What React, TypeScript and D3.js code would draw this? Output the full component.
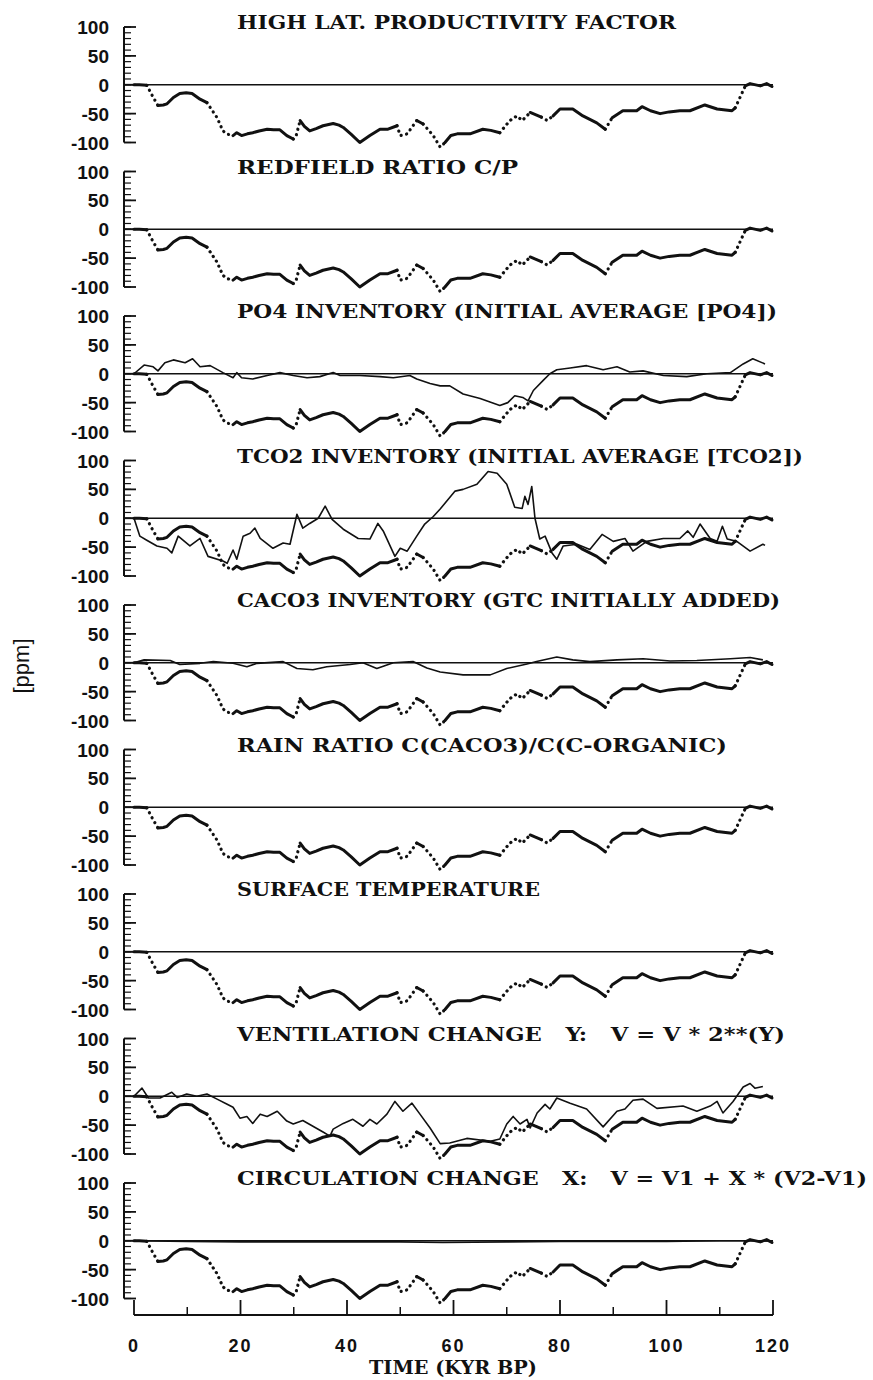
import React from "react";
import * as d3 from "d3";

// ---------- DATA ----------
const titles = [
  "HIGH LAT. PRODUCTIVITY FACTOR",
  "REDFIELD RATIO C/P",
  "PO4 INVENTORY (INITIAL AVERAGE [PO4])",
  "TCO2 INVENTORY (INITIAL AVERAGE [TCO2])",
  "CACO3 INVENTORY (GTC INITIALLY ADDED)",
  "RAIN RATIO C(CACO3)/C(C-ORGANIC)",
  "SURFACE TEMPERATURE",
  "VENTILATION CHANGE   Y:   V = V * 2**(Y)",
  "CIRCULATION CHANGE   X:   V = V1 + X * (V2-V1)",
];

const xTicks = [0, 20, 40, 60, 80, 100, 120];
const yTicks = [100, 50, 0, -50, -100];
const xLabel = "TIME (KYR BP)";
const yLabel = "[ppm]";

// Reference (Vostok) CO2 anomaly, drawn in every panel
const refT = [0, 1, 2.4, 3.5, 4.5, 5.5, 6.2, 7.4, 8.6, 9.8, 10.9, 12.4, 13.7, 15.6, 16.7, 17.7, 18.6, 19.3, 20.2, 21.3, 22.3, 23.5, 25, 26.2, 27.4, 28.7, 29.9, 30.4, 31.2, 32, 33, 34.2, 35.5, 37.4, 38.5, 39.3, 40.8, 42.4, 44.3, 46.2, 47.7, 49.4, 50, 51.3, 53.1, 54.3, 56.2, 57.5, 58.4, 59.5, 60.7, 63.1, 65.5, 67, 68.7, 70.6, 71.9, 72.9, 74.4, 75.5, 76.5, 77.6, 78.7, 80, 82.4, 84.3, 86.9, 88.5, 89.8, 91.8, 94.4, 95.4, 97, 98.8, 100.5, 102.5, 104.4, 107.2, 109.5, 112.3, 112.9, 114.8, 115.7, 117.6, 118.8, 119.8];
const refV = [0, 0, -1, -20, -36, -35, -33, -22, -15, -14, -15, -25, -31, -57, -80, -86, -88, -83, -88, -85, -83, -80, -77, -78, -78, -88, -94, -90, -62, -72, -80, -76, -71, -67, -70, -74, -86, -100, -88, -77, -77, -71, -88, -85, -62, -68, -88, -108, -100, -88, -85, -85, -77, -79, -83, -62, -54, -62, -48, -52, -56, -62, -54, -42, -42, -54, -66, -77, -57, -45, -45, -38, -45, -50, -47, -45, -45, -35, -42, -45, -40, -2, 2, -2, 2, -3];
const refDotted = [[2.4, 4.5], [13.7, 18.6], [29.5, 31.5], [49.4, 53.1], [54.3, 58.4], [69.5, 74.5], [76.5, 79], [88.5, 90], [112.9, 115]];

// Model results (null = coincides with the zero line)
const po4T = [0, 1.9, 3.6, 4.5, 5.8, 7.4, 9.6, 11, 12.4, 14.3, 16.7, 18.6, 19.3, 20.2, 22.3, 25, 27.4, 29.9, 32.5, 34.9, 37.4, 38.7, 42.4, 46.2, 48.7, 51.8, 53.1, 55.6, 57.5, 59.3, 61.8, 65, 68.7, 70.2, 71.5, 73, 74, 75, 76.8, 78.1, 79.4, 81.9, 85, 88.1, 90.7, 93.1, 95.6, 99.4, 103.8, 107.6, 112, 114.4, 116.2, 118.5];
const po4V = [0, 15, 12, 5, 19, 24, 19, 26, 12, 14, 2, -7, 2, -7, -9, -3, 2, -3, -7, -5, 2, -3, -3, -5, -7, -3, -9, -17, -21, -21, -35, -43, -55, -50, -38, -41, -47, -29, -12, 0, 7, 10, 14, 7, 12, 3, 5, -3, -5, 0, 2, 17, 26, 17];

const tco2T = [0, 1.1, 2.4, 4.3, 6.2, 7.1, 8.3, 10.5, 12.4, 13.9, 16.7, 17.5, 18.6, 19.3, 20.5, 21.8, 22.7, 23.7, 26.1, 28, 29.3, 30.6, 31.7, 33, 34.6, 35.9, 37.2, 39.3, 42.1, 44.3, 45.8, 46.8, 49, 50, 51.3, 53.1, 54.6, 56.2, 57.5, 60.3, 61.8, 64.4, 66.5, 68.2, 70, 71.5, 72.9, 73.4, 74, 74.7, 75.3, 76.2, 77.2, 78.5, 79.4, 80.6, 83.2, 85.6, 87.9, 90, 92.2, 93.7, 96.3, 99.4, 102.5, 104, 105, 106.3, 108.2, 109.5, 110.5, 111.4, 113.2, 115.7, 118.1, 118.5];
const tco2V = [0, -31, -38, -48, -52, -60, -31, -48, -35, -66, -74, -78, -55, -71, -31, -26, -17, -35, -52, -43, -45, 7, -17, -9, 0, 21, -2, -19, -35, -36, -9, -22, -66, -52, -57, -31, -10, 3, 16, 47, 50, 59, 81, 78, 59, 19, 17, 38, 24, 55, 0, -36, -31, -60, -71, -48, -45, -54, -28, -40, -35, -57, -40, -35, -35, -22, -33, -10, -35, -40, -14, -36, -40, -57, -45, -47];

const caco3T = [0, 1.9, 6.8, 8.6, 12.4, 14.9, 18.6, 21.2, 23.1, 28, 30.6, 33.6, 36.2, 40.6, 43, 45.6, 48.7, 52.4, 55, 57.5, 61.8, 66.9, 70, 73.8, 75.6, 79.4, 82.4, 85.6, 90.7, 95.6, 100.7, 105.7, 112, 115.7, 118.1];
const caco3V = [0, 5, 4, -3, -1, 2, -1, -7, -1, 2, -10, -12, -7, -3, 0, -10, 0, 2, -9, -16, -21, -21, -10, -2, 2, 10, 5, 2, 5, 7, 3, 4, 7, 9, 5];

const ventT = [0, 1.5, 2.7, 4.9, 7.1, 8.1, 9.9, 11.8, 13.7, 15.6, 17.5, 18.6, 19.9, 21.2, 22.3, 23.7, 25, 26.9, 28.7, 29.9, 31.7, 33.6, 35.5, 36.8, 37.4, 39.3, 41.1, 43, 44.3, 45.6, 47.5, 49, 50.5, 52.2, 53.7, 55.6, 57.5, 59.3, 62.5, 66.9, 68.7, 70, 71.2, 72.5, 73.8, 74.4, 75.7, 77.2, 78.1, 79.4, 81.9, 85, 88.1, 90.7, 92.2, 93.7, 95.6, 98.2, 103.1, 105.7, 108.2, 109.5, 110.6, 112.5, 114.4, 115.7, 116.6, 118.1];
const ventV = [0, 14, -3, -3, 7, -2, 4, 0, 4, -5, -14, -19, -38, -35, -47, -31, -35, -26, -43, -48, -42, -52, -62, -69, -57, -47, -40, -52, -40, -48, -31, -9, -26, -12, -31, -55, -82, -81, -73, -78, -74, -48, -35, -48, -40, -55, -29, -14, -22, -3, -12, -22, -53, -26, -22, -7, -5, -21, -17, -26, -17, -9, -29, -9, 16, 22, 14, 17];

const circT = [0, 10, 20, 30, 40, 50, 58, 70, 80, 90, 100, 110, 120];
const circV = [0, -1, -2, -2, -2, -2, -3, -2, -1, -1, -1, 0, 0];

const modelT = [null, null, po4T, tco2T, caco3T, null, null, ventT, circT];
const modelV = [null, null, po4V, tco2V, caco3V, null, null, ventV, circV];

// ---------- LAYOUT ----------
const W = 873;
const H = 1380;
const TOP0 = 27;
const PITCH = 144.5;
const PH = 115.5;
const AXIS_X = 124;
const X0 = 134;
const X1 = 773;
const TITLE_X = 237;
const titleWidths = [439, 281, 540, 566, 543, 490, 303, 548, 630];
const X_AXIS_Y = 1315;

const SANS = "'Liberation Sans', Arial, Helvetica, sans-serif";
const SERIF = "'DejaVu Serif', 'Liberation Serif', serif";

const x = d3.scaleLinear().domain([0, 120]).range([X0, X1]);

function refSegments() {
  const segs: { dotted: boolean; pts: [number, number][] }[] = [];
  for (let i = 0; i < refT.length - 1; i++) {
    const mid = (refT[i] + refT[i + 1]) / 2;
    const dotted = refDotted.some(([a, b]) => mid >= a && mid <= b);
    const last = segs[segs.length - 1];
    if (last && last.dotted === dotted) {
      last.pts.push([refT[i + 1], refV[i + 1]]);
    } else {
      segs.push({ dotted, pts: [[refT[i], refV[i]], [refT[i + 1], refV[i + 1]]] });
    }
  }
  return segs;
}

function Panel({ i }: { i: number }) {
  const top = TOP0 + i * PITCH;
  const y = d3.scaleLinear().domain([-100, 100]).range([top + PH, top]);
  const line = d3
    .line<[number, number]>()
    .x((d) => x(d[0]))
    .y((d) => y(d[1]));
  const minor = d3.range(-100, 101, 10);
  const segs = refSegments();
  const mt = modelT[i];
  const mv = modelV[i];
  const modelPts: [number, number][] | null = mt && mv ? mt.map((t, k) => [t, mv[k]] as [number, number]) : null;
  return (
    <g>
      <text
        x={TITLE_X}
        y={top + 2}
        fontFamily={SERIF}
        fontWeight="bold"
        fontSize={19}
        textLength={titleWidths[i]}
        lengthAdjust="spacingAndGlyphs"
        style={{ whiteSpace: "pre" }}
        fill="#111"
      >
        {titles[i]}
      </text>
      {/* y axis */}
      <line x1={AXIS_X} x2={AXIS_X} y1={y(100)} y2={y(-100)} stroke="#111" strokeWidth={2} />
      {minor.map((v) => (
        <line key={"m" + v} x1={AXIS_X} x2={AXIS_X + 7} y1={y(v)} y2={y(v)} stroke="#111" strokeWidth={1.2} />
      ))}
      {yTicks.map((v) => (
        <g key={"t" + v}>
          <line x1={AXIS_X} x2={AXIS_X + 12} y1={y(v)} y2={y(v)} stroke="#111" strokeWidth={1.8} />
          <text
            x={109}
            y={y(v) + 7}
            textAnchor="end"
            fontFamily={SANS}
            fontWeight="bold"
            fontSize={19}
            fill="#111"
          >
            {String(v)}
          </text>
        </g>
      ))}
      {/* zero line */}
      <line x1={AXIS_X} x2={X1} y1={y(0)} y2={y(0)} stroke="#111" strokeWidth={1.6} />
      {/* reference curve */}
      {segs.map((s, k) => (
        <path
          key={"r" + k}
          d={line(s.pts) || ""}
          fill="none"
          stroke="#111"
          strokeWidth={s.dotted ? 3.2 : 3}
          strokeLinecap="round"
          strokeLinejoin="round"
          strokeDasharray={s.dotted ? "0.1 5.5" : undefined}
        />
      ))}
      {/* model curve */}
      {modelPts && (
        <path d={line(modelPts) || ""} fill="none" stroke="#111" strokeWidth={1.6} strokeLinejoin="round" />
      )}
    </g>
  );
}

export default function App() {
  const minorX = d3.range(10, 120, 20);
  return (
    <svg
      width={W}
      height={H}
      viewBox={`0 0 ${W} ${H}`}
      style={{ position: "absolute", left: 0, top: 0, display: "block", background: "#fff" }}
    >
      <rect x={0} y={0} width={W} height={H} fill="#fff" />
      {titles.map((_, i) => (
        <Panel key={i} i={i} />
      ))}
      {/* x axis */}
      <line x1={x(0)} x2={x(120)} y1={X_AXIS_Y} y2={X_AXIS_Y} stroke="#111" strokeWidth={2} />
      {xTicks.map((t) => (
        <g key={"x" + t}>
          <line x1={x(t)} x2={x(t)} y1={X_AXIS_Y} y2={X_AXIS_Y - 15} stroke="#111" strokeWidth={1.8} />
          <text
            x={x(t)}
            y={1352}
            textAnchor="middle"
            fontFamily={SANS}
            fontWeight="bold"
            fontSize={18}
            letterSpacing={2}
            fill="#111"
          >
            {String(t)}
          </text>
        </g>
      ))}
      {minorX.map((t) => (
        <line key={"mx" + t} x1={x(t)} x2={x(t)} y1={X_AXIS_Y} y2={X_AXIS_Y - 8} stroke="#111" strokeWidth={1.5} />
      ))}
      <text
        x={453}
        y={1374}
        textAnchor="middle"
        fontFamily={SERIF}
        fontWeight="bold"
        fontSize={18}
        textLength={168}
        lengthAdjust="spacingAndGlyphs"
        fill="#111"
      >
        {xLabel}
      </text>
      <text
        transform="translate(29,666) rotate(-90)"
        textAnchor="middle"
        fontFamily={SANS}
        fontSize={22}
        fill="#111"
      >
        {yLabel}
      </text>
    </svg>
  );
}
